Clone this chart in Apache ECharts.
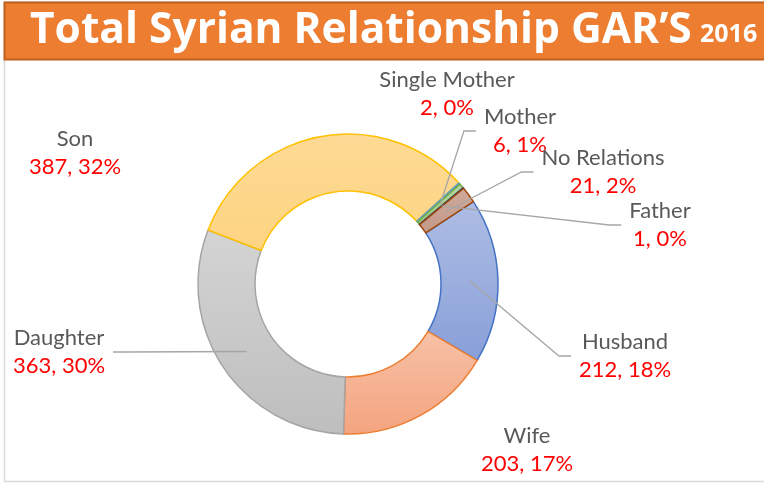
<!DOCTYPE html>
<html>
<head>
<meta charset="utf-8">
<script src="https://cdn.jsdelivr.net/npm/echarts@6/dist/echarts.min.js"></script>
<style>
html, body { margin: 0; padding: 0; background: #fff; }
#chart { width: 764px; height: 483px; }
</style>
</head>
<body>
<div id="chart"></div>
<script>
// data, in the order the slices run clockwise from the Husband slice
var names = ['Husband', 'Wife', 'Daughter', 'Son', 'Single Mother', 'Mother', 'Father', 'No Relations'];
var counts = [212, 203, 363, 387, 2, 6, 1, 21];

// styles
var fills = [
    ['#AEBDE4', '#889FD8'],
    ['#F7C1A6', '#F4A47F'],
    ['#D4D4D4', '#BEBEBE'],
    ['#FDDA94', '#FDD482'],
    ['#A9CBEA', '#94BDE4'],
    ['#B7D7A3', '#A3CC88'],
    ['#6F86B4', '#5A73A8'],
    ['#D0AA9C', '#C39888']
];
var borders = ['#4472C4', '#ED7D31', '#A5A5A5', '#FFC000', '#5B9BD5', '#70AD47', '#264478', '#9E480E'];

// label placement (Excel labels were dragged by hand)
var labelPos = {
    'Husband': [625, 356],
    'Wife': [527, 450],
    'Daughter': [59, 352],
    'Son': [75, 153],
    'Single Mother': [447, 94],
    'Mother': [520, 131],
    'No Relations': [603, 172],
    'Father': [660, 225]
};
var lineFrom = { 'Husband': 'left', 'Daughter': 'right', 'Mother': 'left', 'No Relations': 'left', 'Father': 'left' };

var CX = 348, CY = 284, R_IN = 93, R_OUT = 150, R_MID = 122;
var START = 33.3;

var total = 0;
counts.forEach(function (v) { total += v; });

function grad(c) {
    return new echarts.graphic.LinearGradient(0, 0, 0, 1, [
        { offset: 0, color: c[0] },
        { offset: 1, color: c[1] }
    ]);
}

var ringData = names.map(function (n, i) {
    return {
        name: n,
        value: counts[i],
        itemStyle: { color: grad(fills[i]), borderColor: borders[i] }
    };
});

// same slices again, invisible, only to carry labels and leader lines above the ring
var labelData = names.map(function (n, i) {
    return { name: n, value: counts[i], labelLine: { show: !!lineFrom[n] } };
});

var chart = echarts.init(document.getElementById('chart'));

chart.setOption({
    animation: false,
    graphic: [
        {
            type: 'rect', z: 0, silent: true,
            shape: { x: 4.5, y: 2, width: 780, height: 479.5 },
            style: { fill: 'none', stroke: '#D9D9D9', lineWidth: 1.5 }
        },
        {
            type: 'rect', z: 1, silent: true,
            shape: { x: 4.5, y: 2.5, width: 780, height: 57 },
            style: { fill: '#ED7D31', stroke: '#C0601F', lineWidth: 2 }
        },
        {
            type: 'text', z: 2, left: 30, top: 9, silent: true,
            style: {
                text: 'Total Syrian Relationship GAR’S',
                fill: '#fff', font: 'bold 42.5px "Open Sans"'
            }
        },
        {
            type: 'text', z: 2, left: 700, top: 22, silent: true,
            style: {
                text: '2016',
                fill: '#fff', font: 'bold 25px "Open Sans"'
            }
        }
    ],
    series: [
        {
            type: 'pie',
            silent: true,
            z: 2,
            center: [CX, CY],
            radius: [R_IN, R_OUT],
            startAngle: START,
            clockwise: true,
            itemStyle: { borderWidth: 1.5 },
            label: { show: false },
            labelLine: { show: false },
            data: ringData
        },
        {
            type: 'pie',
            silent: true,
            z: 3,
            center: [CX, CY],
            radius: [R_IN, R_OUT],
            startAngle: START,
            clockwise: true,
            avoidLabelOverlap: false,
            itemStyle: { color: 'rgba(0,0,0,0)', borderWidth: 0 },
            label: {
                show: true,
                position: 'outside',
                formatter: function (p) {
                    return '{n|' + p.name + '}\n{v|' + p.value + ', ' + Math.round(p.value / total * 100) + '%}';
                },
                rich: {
                    n: { fontFamily: 'Lato', fontSize: 22, color: '#595959', lineHeight: 28, align: 'center' },
                    v: { fontFamily: 'Lato', fontSize: 22, color: '#FF0000', lineHeight: 28, align: 'center' }
                }
            },
            labelLine: { show: true, lineStyle: { color: '#A6A6A6', width: 1.3 } },
            labelLayout: function (p) {
                var n = names[p.dataIndex];
                var pos = labelPos[n];
                var res = { x: pos[0], y: pos[1], align: 'center', verticalAlign: 'middle' };
                var side = lineFrom[n];
                if (side && p.labelLinePoints) {
                    var p0 = p.labelLinePoints[0];
                    var dx = p0[0] - CX, dy = p0[1] - CY;
                    var d = Math.sqrt(dx * dx + dy * dy);
                    var start = [CX + dx / d * R_MID, CY + dy / d * R_MID];
                    var half = p.labelRect.width / 2;
                    var endX = side === 'left' ? pos[0] - half - 8 : pos[0] + half + 8;
                    var bendX = side === 'left' ? endX - 12 : endX + 12;
                    res.labelLinePoints = [start, [bendX, pos[1]], [endX, pos[1]]];
                }
                return res;
            },
            data: labelData
        }
    ]
});
</script>
</body>
</html>
